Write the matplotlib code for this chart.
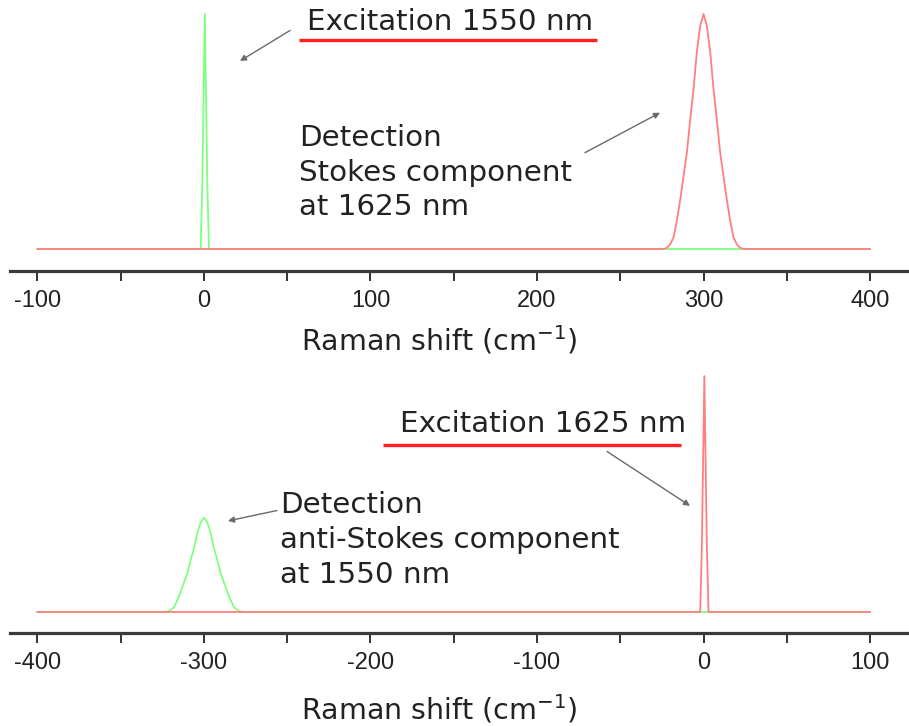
import matplotlib
matplotlib.use("Agg")
import matplotlib.pyplot as plt

plt.rcParams['font.family'] = ['Liberation Sans', 'DejaVu Sans']
plt.rcParams['axes.unicode_minus'] = False

# ---- data -------------------------------------------------------------
# Stokes detection peak (red, upper panel), normalised intensity
stokes_x = [276, 278, 280, 282, 284, 286, 288, 290, 292, 294, 296, 298, 300,
            302, 304, 306, 308, 310, 312, 314, 316, 318, 320, 322, 324]
stokes_y = [0.0, 0.005, 0.02, 0.05, 0.12, 0.21, 0.31, 0.41, 0.55, 0.68, 0.84, 0.95, 1.0,
            0.95, 0.84, 0.68, 0.55, 0.41, 0.31, 0.21, 0.12, 0.05, 0.02, 0.005, 0.0]

# Excitation line at 1550 nm (green spike, upper panel)
pump1550_x = [-2, -1, 0.5, 2, 3]
pump1550_y = [0.0, 0.28, 1.0, 0.28, 0.0]

# anti-Stokes detection peak (green, lower panel)
antistokes_x = [-324, -322, -320, -318, -316, -314, -312, -310, -308, -306, -304, -302, -300,
                -298, -296, -294, -292, -290, -288, -286, -284, -282, -280, -278, -276]
antistokes_y = [0.0, 0.002, 0.008, 0.02, 0.05, 0.085, 0.125, 0.165, 0.22, 0.27, 0.335, 0.38, 0.40,
                0.38, 0.335, 0.27, 0.22, 0.165, 0.125, 0.085, 0.05, 0.02, 0.008, 0.002, 0.0]

# Excitation line at 1625 nm (red spike, lower panel)
pump1625_x = [-2, -1, 0.5, 2, 3]
pump1625_y = [0.0, 0.28, 1.0, 0.28, 0.0]

top_range = [-100, 400]
bottom_range = [-400, 100]
top_ticks = [-100, 0, 100, 200, 300, 400]
bottom_ticks = [-400, -300, -200, -100, 0, 100]

RED = '#ff7f7f'
GREEN = '#7fff7f'
AXIS_COLOR = '#3a3a3a'
TEXT_COLOR = '#222222'
LABEL_FONT = dict(family=['DejaVu Sans'], fontsize=20.5, color=TEXT_COLOR)
NOTE_FONT = dict(family=['DejaVu Sans'], fontsize=21.2, color=TEXT_COLOR)
ARROW = dict(arrowstyle='-|>', color='#6a6a6a', lw=1.0,
             mutation_scale=9, shrinkA=0, shrinkB=0)


def series(span, px, py):
    x = [span[0]] + list(px) + [span[1]]
    y = [0.0] + list(py) + [0.0]
    return x, y


def style_axis(ax, xlim, ylim, ticks, label_y):
    ax.set_xlim(*xlim)
    ax.set_ylim(*ylim)
    for s in ('top', 'left', 'right'):
        ax.spines[s].set_visible(False)
    ax.spines['bottom'].set_linewidth(2.3)
    ax.spines['bottom'].set_color(AXIS_COLOR)
    ax.set_yticks([])
    ax.set_xticks(ticks)
    ax.set_xticks([t + 50 for t in ticks[:-1]], minor=True)
    ax.tick_params(axis='x', which='both', direction='out', length=7.5,
                   width=1.3, color='#222222', labelsize=17, pad=6,
                   labelcolor=TEXT_COLOR)
    ax.set_xlabel('Raman shift (cm$^{-1}$)', **LABEL_FONT)
    ax.xaxis.set_label_coords(0.478, label_y)


fig = plt.figure(figsize=(9.09, 7.26), dpi=100)
W, H = 909.0, 726.0
ax1 = fig.add_axes([10 / W, 1 - 271 / H, 1 - 10 / W, 271 / H])
ax2 = fig.add_axes([10 / W, 1 - 633 / H, 1 - 10 / W, 273 / H])

# ---- upper panel: excitation at 1550 nm --------------------------------
gx, gy = series(top_range, pump1550_x, pump1550_y)
rx, ry = series(top_range, stokes_x, stokes_y)
ax1.plot(gx, gy, color=GREEN, lw=1.3)
ax1.plot(rx, ry, color=RED, lw=1.3)
style_axis(ax1, (-116.5, 423.4), (-0.0936, 1.0596), top_ticks, -0.195)

ax1.text(62, 0.968, 'Excitation 1550 nm', va='center', ha='left', **NOTE_FONT)
ax1.plot([57, 236], [0.889, 0.889], color='#ff2020', lw=2.4, solid_capstyle='butt')
ax1.annotate('', xy=(21.6, 0.80), xytext=(51.7, 0.93), arrowprops=ARROW)
ax1.text(57, 0.325, 'Detection\nStokes component\nat 1625 nm',
         va='center', ha='left', linespacing=1.3, **NOTE_FONT)
ax1.annotate('', xy=(273.9, 0.58), xytext=(228.8, 0.41), arrowprops=ARROW)

# ---- lower panel: excitation at 1625 nm --------------------------------
gx, gy = series(bottom_range, antistokes_x, antistokes_y)
rx, ry = series(bottom_range, pump1625_x, pump1625_y)
ax2.plot(gx, gy, color=GREEN, lw=1.3)
ax2.plot(rx, ry, color=RED, lw=1.3)
style_axis(ax2, (-416.5, 123.4), (-0.089, 1.068), bottom_ticks, -0.22)

ax2.text(-182.3, 0.795, 'Excitation 1625 nm', va='center', ha='left', **NOTE_FONT)
ax2.plot([-192.5, -13.5], [0.708, 0.708], color='#ff2020', lw=2.4, solid_capstyle='butt')
ax2.annotate('', xy=(-8.1, 0.45), xytext=(-57.9, 0.68), arrowprops=ARROW)
ax2.text(-254.4, 0.305, 'Detection\nanti-Stokes component\nat 1550 nm',
         va='center', ha='left', linespacing=1.3, **NOTE_FONT)
ax2.annotate('', xy=(-285.6, 0.386), xytext=(-256.2, 0.43), arrowprops=ARROW)

fig.savefig('out.png', dpi=100)
